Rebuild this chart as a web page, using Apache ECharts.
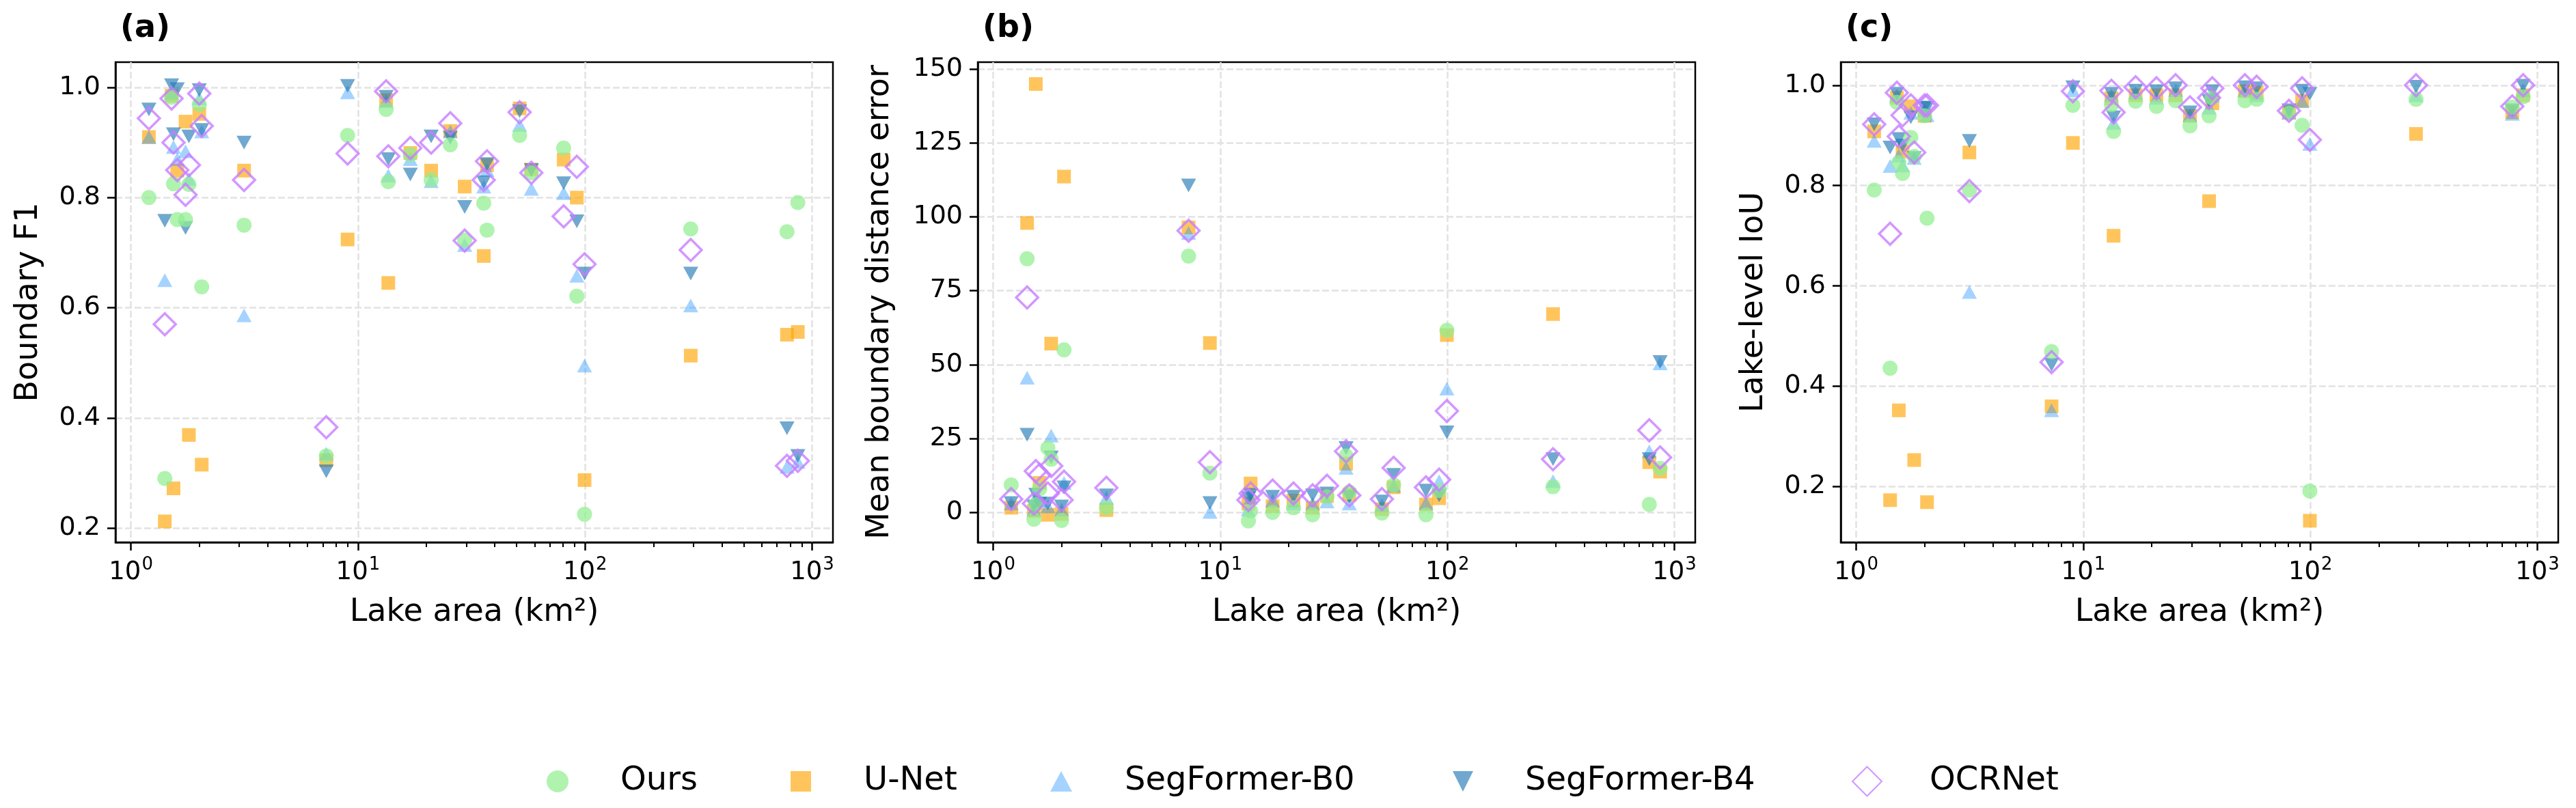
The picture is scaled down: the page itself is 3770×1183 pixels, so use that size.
<!DOCTYPE html>
<html>
<head>
<meta charset="utf-8">
<script src="https://cdn.jsdelivr.net/npm/echarts@6/dist/echarts.min.js"></script>
<style>
  html, body { margin: 0; padding: 0; background: #fff; }
  #main { width: 3770px; height: 1183px; }
</style>
</head>
<body>
<div id="main"></div>
<script>
// lake areas (km2), one entry per lake, shared by all panels
var lakeArea = [1.2, 1.41, 1.51, 1.54, 1.6, 1.74, 1.8, 2.0, 2.05, 3.15, 7.25, 9.0, 13.3, 13.6, 17.0,
  21.0, 25.5, 29.5, 35.8, 37.0, 51.5, 58.0, 80.5, 92.0, 99.5, 292, 775, 865];

// (a) boundary F1
var f1Ours = [0.80, 0.29, 0.982, 0.825, 0.76, 0.76, 0.824, 0.969, 0.638, 0.75, 0.331, 0.913, 0.96, 0.829, 0.878,
  0.832, 0.896, 0.723, 0.79, 0.741, 0.913, 0.845, 0.89, 0.621, 0.225, 0.743, 0.738, 0.791];
var f1UNet = [0.91, 0.212, 0.985, 0.272, 0.849, 0.938, 0.369, 0.952, 0.315, 0.849, 0.323, 0.724, 0.977, 0.645, 0.881,
  0.849, 0.921, 0.82, 0.694, 0.859, 0.962, 0.851, 0.869, 0.80, 0.287, 0.513, 0.551, 0.556];
var f1B0 = [0.91, 0.65, 0.99, 0.892, 0.87, 0.884, 0.834, 0.98, 0.92, 0.586, 0.335, 0.991, 0.975, 0.84, 0.87,
  0.83, 0.92, 0.714, 0.82, 0.85, 0.932, 0.816, 0.808, 0.658, 0.495, 0.604, 0.311, 0.32];
var f1B4 = [0.96, 0.758, 1.004, 0.915, 0.997, 0.745, 0.911, 0.995, 0.923, 0.90, 0.303, 1.003, 0.983, 0.87, 0.842,
  0.911, 0.909, 0.783, 0.828, 0.861, 0.957, 0.85, 0.826, 0.757, 0.662, 0.662, 0.381, 0.331];
var f1OCR = [0.944, 0.57, 0.98, 0.90, 0.85, 0.805, 0.859, 0.989, 0.93, 0.832, 0.383, 0.88, 0.993, 0.875, 0.89,
  0.90, 0.935, 0.722, 0.832, 0.866, 0.955, 0.845, 0.766, 0.856, 0.679, 0.705, 0.313, 0.322];

// (b) mean boundary distance error
var mbdOurs = [9.3, 85.8, -2.3, 2.7, 8, 21.8, 18, -2.7, 55, 1.6, 86.7, 13.3, -2.9, 0.5, 0,
  1.6, -0.8, 5.3, 19.1, 6.9, -0.2, 9.3, -0.8, 7.4, 61.6, 8.7, 2.7, 14.9];
var mbdUNet = [1.6, 97.9, 0.5, 144.9, 10, -0.8, 57.1, -0.5, 113.6, 0.8, 96.4, 57.3, 3, 9.8, 2.1,
  4, 1.6, 5.5, 16.5, 6, 1.1, 8.5, 2.7, 4.8, 60, 67.1, 17, 13.8];
var mbdB0 = [3, 45.6, 1, 5, 4, 2, 26, 1, 10, 5, 94.5, 0.2, 1, 5, 4,
  3, 3, 3.7, 15.1, 3, 2.5, 9, 3.2, 10.6, 41.9, 10.6, 20.7, 50.4];
var mbdB4 = [3.2, 26.3, 2, 6, 3, 3, 18.6, 2, 8.5, 5.8, 110.6, 3.2, 4.8, 6, 5.3,
  5.3, 5.8, 6.4, 21.8, 5.3, 3.7, 12.7, 7.4, 5.8, 27.1, 18, 18, 50.9];
var mbdOCR = [4.5, 72.7, 3, 14, 12.7, 6.4, 15.7, 4.2, 10.4, 8.3, 95.3, 17, 4.2, 6.4, 7.4,
  6.4, 5.8, 9, 20.7, 5.8, 4.5, 15.1, 8.5, 11.1, 34.3, 18, 27.8, 18.6];

// (c) lake-level IoU
var iouOurs = [0.791, 0.436, 0.966, 0.846, 0.824, 0.896, 0.858, 0.939, 0.735, 0.791, 0.469, 0.96, 0.961, 0.908, 0.968,
  0.958, 0.969, 0.919, 0.939, 0.975, 0.969, 0.972, 0.944, 0.92, 0.191, 0.972, 0.956, 0.977];
var iouUNet = [0.908, 0.173, 0.975, 0.352, 0.868, 0.958, 0.253, 0.939, 0.169, 0.866, 0.36, 0.885, 0.974, 0.70, 0.98,
  0.98, 0.98, 0.939, 0.769, 0.964, 0.988, 0.985, 0.946, 0.969, 0.132, 0.903, 0.946, 0.98];
var iouB0 = [0.889, 0.839, 0.98, 0.86, 0.84, 0.945, 0.855, 0.95, 0.94, 0.588, 0.352, 0.99, 0.98, 0.925, 0.985,
  0.975, 0.99, 0.94, 0.955, 0.98, 0.99, 0.98, 0.945, 0.968, 0.883, 0.98, 0.943, 0.99];
var iouB4 = [0.922, 0.876, 0.983, 0.893, 0.88, 0.936, 0.855, 0.955, 0.955, 0.889, 0.443, 0.996, 0.983, 0.936, 0.989,
  0.988, 0.994, 0.946, 0.969, 0.988, 0.996, 0.994, 0.95, 0.989, 0.983, 0.997, 0.95, 0.999];
var iouOCR = [0.922, 0.704, 0.985, 0.898, 0.94, 0.96, 0.866, 0.96, 0.96, 0.789, 0.448, 0.988, 0.989, 0.946, 0.996,
  0.994, 1.0, 0.956, 0.975, 0.994, 1.0, 0.997, 0.949, 0.994, 0.891, 1.0, 0.958, 1.0];

var decadeTicks = [1, 10, 100, 1000];
var minorTicks = [2, 3, 4, 5, 6, 7, 8, 9, 20, 30, 40, 50, 60, 70, 80, 90, 200, 300, 400, 500, 600, 700, 800, 900];
var f1Ticks = [0.2, 0.4, 0.6, 0.8, 1.0];
var mbdTicks = [0, 25, 50, 75, 100, 125, 150];
var iouTicks = [0.2, 0.4, 0.6, 0.8, 1.0];

var FONT = 'DejaVu Sans';
var dom = document.getElementById('main');
var myChart = echarts.init(dom, null, { renderer: 'canvas' });

var panels = [
  { tag: '(a)', yName: 'Boundary F1', left: 169, min: 0.174, max: 1.046, ticks: f1Ticks, gap: 104, dec: 1,
    vals: [f1Ours, f1UNet, f1B0, f1B4, f1OCR] },
  { tag: '(b)', yName: 'Mean boundary distance error', left: 1431, min: -10.1, max: 152.3, ticks: mbdTicks, gap: 120, dec: 0,
    vals: [mbdOurs, mbdUNet, mbdB0, mbdB4, mbdOCR] },
  { tag: '(c)', yName: 'Lake-level IoU', left: 2694, min: 0.089, max: 1.046, ticks: iouTicks, gap: 104, dec: 1,
    vals: [iouOurs, iouUNet, iouB0, iouB4, iouOCR] }
];

// legend order = index order; z decides drawing order
var models = [
  { name: 'Ours', symbol: 'circle', size: 22, z: 4,
    style: { color: 'rgba(144,238,144,0.9)' }, lLeft: 795, lw: 32, lh: 32, pad: 71 },
  { name: 'U-Net', symbol: 'rect', size: [20, 20], z: 1,
    style: { color: 'rgba(255,165,0,0.8)' }, lLeft: 1152, lw: 30, lh: 30, pad: 72 },
  { name: 'SegFormer-B0', symbol: 'triangle', size: [22, 20], z: 2,
    style: { color: 'rgba(30,144,255,0.5)' }, lLeft: 1532, lw: 32, lh: 30, pad: 72 },
  { name: 'SegFormer-B4', symbol: 'path://M0,0 L10,0 L5,10 Z', size: [22, 20], z: 3,
    style: { color: 'rgba(31,119,180,0.8)' }, lLeft: 2121, lw: 32, lh: 30, pad: 70 },
  { name: 'OCRNet', symbol: 'diamond', size: [32, 32], z: 5,
    style: { color: 'rgba(255,255,255,0)', borderColor: '#c77dff', borderWidth: 3.5 }, lLeft: 2705, lw: 43, lh: 43, pad: 65 }
];

function decadeLabel(v) {
  var lg = Math.log(v) / Math.LN10;
  var e = Math.round(lg);
  if (Math.abs(lg - e) > 1e-6) return '';
  return '{b|10}{e|' + e + '}';
}

var grid = [], xAxis = [], yAxis = [], series = [], title = [];

panels.forEach(function (p, pi) {
  grid.push({ left: p.left, top: 91, width: 1050, height: 703, containLabel: false,
    show: true, borderColor: '#000', borderWidth: 2.5, backgroundColor: 'rgba(0,0,0,0)' });
  title.push({ text: p.tag, left: p.left + 2, top: 14,
    textStyle: { fontFamily: FONT, fontSize: 46, fontWeight: 'bold', color: '#000' } });

  // major log axis
  xAxis.push({
    type: 'log', logBase: 10, gridIndex: pi, min: 0.855, max: 1235,
    name: 'Lake area (km²)', nameLocation: 'middle', nameGap: 80,
    nameTextStyle: { fontFamily: FONT, fontSize: 46, color: '#000' },
    axisLine: { show: true, onZero: false, lineStyle: { color: '#000', width: 2.5 } },
    axisTick: { show: true, length: 12, lineStyle: { color: '#000', width: 2.5 }, customValues: decadeTicks },
    axisLabel: { show: true, margin: 20, customValues: decadeTicks,
      formatter: decadeLabel,
      rich: {
        b: { fontFamily: FONT, fontSize: 37, color: '#000' },
        e: { fontFamily: FONT, fontSize: 26, color: '#000', padding: [0, 0, 22, 1] }
      } },
    splitLine: { show: true, lineStyle: { color: '#e2e2e2', width: 2.5, type: [10, 4] } }
  });
  // minor ticks only
  xAxis.push({
    type: 'log', logBase: 10, gridIndex: pi, min: 0.855, max: 1235, position: 'bottom',
    axisLine: { show: false, onZero: false },
    axisTick: { show: true, length: 7, lineStyle: { color: '#000', width: 2 }, customValues: minorTicks },
    axisLabel: { show: false },
    splitLine: { show: false }
  });

  yAxis.push({
    type: 'value', gridIndex: pi, min: p.min, max: p.max,
    name: p.yName, nameLocation: 'middle', nameGap: p.gap,
    nameTextStyle: { fontFamily: FONT, fontSize: 46, color: '#000' },
    axisLine: { show: true, onZero: false, lineStyle: { color: '#000', width: 2.5 } },
    axisTick: { show: true, length: 12, lineStyle: { color: '#000', width: 2.5 }, customValues: p.ticks },
    axisLabel: { show: true, margin: 22, customValues: p.ticks,
      fontFamily: FONT, fontSize: 38, color: '#000',
      formatter: (function (dec) { return function (v) { return v.toFixed(dec); }; })(p.dec) },
    splitLine: { show: true, lineStyle: { color: '#e2e2e2', width: 2.5, type: [10, 4] } }
  });

  models.forEach(function (m, mi) {
    var vals = p.vals[mi];
    series.push({
      name: m.name, type: 'scatter', xAxisIndex: pi * 2, yAxisIndex: pi,
      symbol: m.symbol, symbolSize: m.size, z: m.z, clip: false,
      itemStyle: m.style,
      emphasis: { disabled: true },
      data: lakeArea.map(function (a, i) { return [a, vals[i]]; })
    });
  });
});

var legend = models.map(function (m) {
  return {
    data: [m.name], left: m.lLeft, top: 1115, orient: 'horizontal',
    itemWidth: m.lw, itemHeight: m.lh, selectedMode: false,
    textStyle: { fontFamily: FONT, fontSize: 48, color: '#000', padding: [0, 0, 0, m.pad] }
  };
});

var option = {
  animation: false,
  backgroundColor: '#fff',
  title: title,
  legend: legend,
  grid: grid,
  xAxis: xAxis,
  yAxis: yAxis,
  series: series
};

myChart.setOption(option);
</script>
</body>
</html>
